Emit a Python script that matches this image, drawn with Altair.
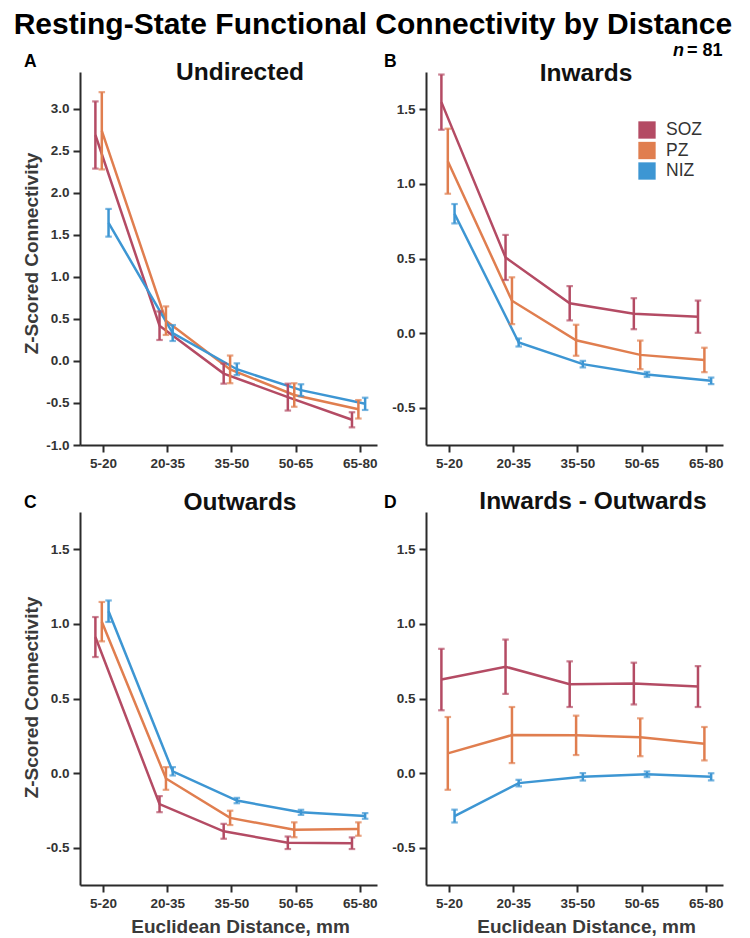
import altair as alt
import pandas as pd

# ---------------- data ----------------
distance_bins = ["5-20", "20-35", "35-50", "50-65", "65-80"]
groups = ["SOZ", "PZ", "NIZ"]
group_colors = ["#b44b64", "#e07e4f", "#3d96d3"]

# Panel A - Undirected (mean, s.e.m.)
undirected_soz = [2.69, 0.42, -0.15, -0.43, -0.70]
undirected_soz_sem = [0.40, 0.17, 0.12, 0.16, 0.09]
undirected_pz = [2.74, 0.48, -0.10, -0.405, -0.575]
undirected_pz_sem = [0.46, 0.17, 0.165, 0.14, 0.11]
undirected_niz = [1.645, 0.333, -0.098, -0.347, -0.51]
undirected_niz_sem = [0.165, 0.095, 0.07, 0.07, 0.073]

# Panel B - Inwards
inwards_soz = [1.548, 0.507, 0.20, 0.13, 0.11]
inwards_soz_sem = [0.185, 0.151, 0.115, 0.104, 0.108]
inwards_pz = [1.152, 0.217, -0.048, -0.146, -0.18]
inwards_pz_sem = [0.218, 0.157, 0.104, 0.096, 0.082]
inwards_niz = [0.80, -0.063, -0.208, -0.277, -0.32]
inwards_niz_sem = [0.065, 0.027, 0.022, 0.017, 0.022]

# Panel C - Outwards
outwards_soz = [0.912, -0.208, -0.39, -0.467, -0.47]
outwards_soz_sem = [0.134, 0.054, 0.05, 0.042, 0.039]
outwards_pz = [1.015, -0.036, -0.30, -0.38, -0.375]
outwards_pz_sem = [0.132, 0.076, 0.048, 0.05, 0.045]
outwards_niz = [1.085, 0.012, -0.184, -0.263, -0.287]
outwards_niz_sem = [0.072, 0.028, 0.018, 0.017, 0.019]

# Panel D - Inwards - Outwards
diff_soz = [0.627, 0.713, 0.596, 0.60, 0.58]
diff_soz_sem = [0.206, 0.182, 0.153, 0.14, 0.137]
diff_pz = [0.132, 0.255, 0.253, 0.24, 0.197]
diff_pz_sem = [0.244, 0.188, 0.132, 0.127, 0.112]
diff_niz = [-0.288, -0.067, -0.025, -0.008, -0.025]
diff_niz_sem = [0.043, 0.022, 0.025, 0.019, 0.024]

undirected_ticks = [-1.0, -0.5, 0.0, 0.5, 1.0, 1.5, 2.0, 2.5, 3.0]
directed_ticks = [-0.5, 0.0, 0.5, 1.0, 1.5]

# ---------------- styling ----------------
FONT = "Liberation Sans"
dodge = {"SOZ": -0.12, "PZ": -0.02, "NIZ": 0.085}
PW, PH = 297, 373


def make_frame(means, sems):
    rows = []
    for g, m_list, s_list in zip(groups, means, sems):
        for i, b in enumerate(distance_bins):
            m, s = m_list[i], s_list[i]
            rows.append(dict(group=g, bin=b, xpos=i + dodge[g], mean=m, lo=m - s, hi=m + s))
    return pd.DataFrame(rows)


x_label_expr = "[" + ",".join("'%s'" % b for b in distance_bins) + "][round(datum.value)]"
y_label_expr = "(datum.value < 0 ? '-' : '') + format(abs(datum.value), '.1f')"

color_scale = alt.Scale(domain=groups, range=group_colors)


def text_layer(txt, px, py, size, weight="bold", style="normal", align="left", color="#111"):
    return alt.Chart(alt.Data(values=[{"k": 0}])).mark_text(
        text=txt, font=FONT, fontSize=size, fontWeight=weight, fontStyle=style,
        align=align, baseline="alphabetic", color=color
    ).encode(x=alt.value(px), y=alt.value(py))


def panel(df, ydom, yticks, letter, letter_x, letter_y, title, title_x, title_y,
          ytitle, xtitle, ytitle_y=alt.Undefined, legend=False, extra=()):
    xenc = alt.X("xpos:Q", scale=alt.Scale(domain=[-0.36, 4.27], nice=False, zero=False),
                 axis=alt.Axis(values=[0, 1, 2, 3, 4], labelExpr=x_label_expr,
                               title=xtitle, titleX=160))
    yscale = alt.Scale(domain=ydom, nice=False, zero=False)

    def yax():
        return alt.Axis(values=yticks, labelExpr=y_label_expr, title=ytitle, titleY=ytitle_y)

    ymean = alt.Y("mean:Q", scale=yscale, axis=yax())
    ylo = alt.Y("lo:Q", scale=yscale, axis=yax())
    yhi = alt.Y("hi:Q", scale=yscale, axis=yax())
    col = alt.Color("group:N", scale=color_scale, legend=None)
    base = alt.Chart(df)
    layers = []
    if legend:
        layers.append(base.mark_point(shape="square", filled=True, size=0, opacity=1).encode(
            x=xenc, y=ymean,
            color=alt.Color("group:N", scale=color_scale,
                            legend=alt.Legend(title=None, orient="none", legendX=212, legendY=49,
                                              symbolType="square", symbolSize=300,
                                              symbolStrokeWidth=0, symbolOpacity=1,
                                              labelFont=FONT, labelFontSize=17.5,
                                              labelColor="#333", labelOffset=10,
                                              rowPadding=2.5, padding=0))))
    layers += [
        base.mark_line(strokeWidth=2.5).encode(x=xenc, y=ymean, color=col),
        base.mark_rule(strokeWidth=2.5).encode(x=xenc, y=ylo, y2="hi:Q", color=col),
        base.mark_tick(orient="horizontal", size=6.5, thickness=2.2).encode(
            x=xenc, y=ylo, color=col),
        base.mark_tick(orient="horizontal", size=6.5, thickness=2.2).encode(
            x=xenc, y=yhi, color=col),
        text_layer(letter, letter_x, letter_y, 17.5, color="#000"),
        text_layer(title, title_x, title_y, 24.5, align="center", color="#111"),
    ]
    layers += list(extra)
    return alt.layer(*layers).properties(width=PW, height=PH)


pA = panel(make_frame([undirected_soz, undirected_pz, undirected_niz],
                      [undirected_soz_sem, undirected_pz_sem, undirected_niz_sem]),
           [-1.0, 3.44], undirected_ticks, "A", -56, -5, "Undirected", 160, 8,
           "Z-Scored Connectivity", None, ytitle_y=181)
pB = panel(make_frame([inwards_soz, inwards_pz, inwards_niz],
                      [inwards_soz_sem, inwards_pz_sem, inwards_niz_sem]),
           [-0.75, 1.75], directed_ticks, "B", -42, -5, "Inwards", 160, 8.5,
           None, None, legend=True,
           extra=(text_layer("n", 247, -16, 18, style="italic", color="#000"),
                  text_layer("= 81", 261, -16, 18, color="#000")))
pC = panel(make_frame([outwards_soz, outwards_pz, outwards_niz],
                      [outwards_soz_sem, outwards_pz_sem, outwards_niz_sem]),
           [-0.75, 1.75], directed_ticks, "C", -56, -4, "Outwards", 160, -2.5,
           "Z-Scored Connectivity", "Euclidean Distance, mm", ytitle_y=185)
pD = panel(make_frame([diff_soz, diff_pz, diff_niz],
                      [diff_soz_sem, diff_pz_sem, diff_niz_sem]),
           [-0.75, 1.75], directed_ticks, "D", -42, -4, "Inwards - Outwards", 167, -3,
           None, "Euclidean Distance, mm")

chart = alt.concat(
    pA, pB, pC, pD, columns=2, spacing={"row": 67, "column": 49},
    bounds="flush", align="all"
).resolve_legend(color="independent").properties(
    title=alt.TitleParams("Resting-State Functional Connectivity by Distance",
                          font=FONT, fontSize=30, fontWeight="bold", color="#000",
                          anchor="middle", offset=2),
    padding={"left": 5, "top": 2, "right": 5, "bottom": 0},
    background="#ffffff",
).configure_view(stroke=None).configure_axis(
    domainColor="#2b2b2b", domainWidth=2, tickColor="#2b2b2b", tickWidth=2, tickSize=7,
    labelFont=FONT, labelFontSize=13.5, labelFontWeight="bold", labelColor="#333",
    labelPadding=4, titleFont=FONT, titleFontSize=19, titleFontWeight="bold",
    titleColor="#3a3a3a", grid=False
).configure_axisY(titlePadding=4).configure_axisX(titlePadding=8)

chart.save("out.html", embed_options={"renderer": "svg", "actions": False})
